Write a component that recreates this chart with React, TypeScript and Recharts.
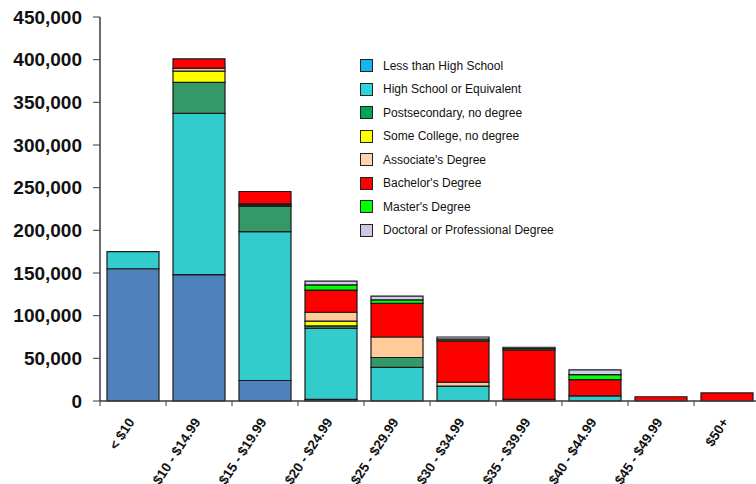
import { BarChart, Bar, XAxis, YAxis } from "recharts";

// ─── DATA ────────────────────────────────────────────────────────────────────

const categories = [
  "< $10",
  "$10 - $14.99",
  "$15 - $19.99",
  "$20 - $24.99",
  "$25 - $29.99",
  "$30 - $34.99",
  "$35 - $39.99",
  "$40 - $44.99",
  "$45 - $49.99",
  "$50+",
];

const lessHS = [155000, 148000, 24000, 2000, 0, 0, 0, 0, 0, 0];
const highSchool = [20000, 189000, 174500, 83000, 39500, 17500, 2000, 6000, 0, 0];
const postsecondary = [0, 36500, 29500, 3000, 11500, 0, 0, 0, 0, 0];
const someCollege = [0, 13000, 1500, 5500, 0, 0, 0, 0, 0, 0];
const associate = [0, 3500, 1500, 10500, 24000, 4500, 0, 0, 0, 0];
const bachelor = [0, 11000, 14500, 26000, 39500, 48500, 58000, 19000, 5000, 9500];
const master = [0, 0, 0, 6000, 4000, 2000, 1500, 6000, 0, 0];
const doctoral = [0, 0, 0, 4500, 4500, 2500, 1500, 5500, 0, 0];

const yTicks = [0, 50000, 100000, 150000, 200000, 250000, 300000, 350000, 400000, 450000];

// series: key, name, bar fill, legend fill
const SERIES = [
  { key: "lessHS", name: "Less than High School", fill: "#4f81bd", legend: "#17b4f0" },
  { key: "highSchool", name: "High School or Equivalent", fill: "#33cccc", legend: "#2dd3dc" },
  { key: "postsecondary", name: "Postsecondary, no degree", fill: "#339966", legend: "#00a651" },
  { key: "someCollege", name: "Some College,  no degree", fill: "#ffff00", legend: "#ffff00" },
  { key: "associate", name: "Associate's Degree", fill: "#ffcc99", legend: "#fdd3b0" },
  { key: "bachelor", name: "Bachelor's Degree", fill: "#ff0000", legend: "#ff0000" },
  { key: "master", name: "Master's Degree", fill: "#00ff00", legend: "#00ff00" },
  { key: "doctoral", name: "Doctoral or Professional Degree", fill: "#ccccee", legend: "#cfc6e0" },
];

const data = categories.map((c, i) => ({
  cat: c,
  lessHS: lessHS[i],
  highSchool: highSchool[i],
  postsecondary: postsecondary[i],
  someCollege: someCollege[i],
  associate: associate[i],
  bachelor: bachelor[i],
  master: master[i],
  doctoral: doctoral[i],
}));

const FONT = "'Liberation Sans', Arial, sans-serif";
const AXIS_COLOR = "#3a3a3a";

// ─── CUSTOM TICKS ────────────────────────────────────────────────────────────

function XTick(props: any) {
  const { x, y, payload, index, width, visibleTicksCount } = props;
  const band = width && visibleTicksCount ? width / visibleTicksCount : 66;
  const axisY = y - 8;
  return (
    <g>
      <line x1={x - band / 2} y1={axisY} x2={x - band / 2} y2={axisY + 5} stroke={AXIS_COLOR} />
      {index === visibleTicksCount - 1 && (
        <line x1={x + band / 2} y1={axisY} x2={x + band / 2} y2={axisY + 5} stroke={AXIS_COLOR} />
      )}
      <text
        x={x + 2}
        y={y + 13}
        transform={`rotate(-57, ${x + 2}, ${y + 13})`}
        textAnchor="end"
        fontFamily={FONT}
        fontWeight="bold"
        fontSize={13.5}
        fill="#111"
      >
        {payload.value}
      </text>
    </g>
  );
}

function LegendBox() {
  return (
    <div
      style={{
        position: "absolute",
        left: 360,
        top: 54,
        width: 240,
        fontFamily: FONT,
        fontSize: 12,
        color: "#111",
      }}
    >
      {SERIES.map((s) => (
        <div key={s.key} style={{ display: "flex", alignItems: "center", height: 23.5 }}>
          <span
            style={{
              width: 13,
              height: 13,
              boxSizing: "border-box",
              background: s.legend,
              border: "1px solid #222",
              marginRight: 10,
              flexShrink: 0,
            }}
          />
          <span>{s.name}</span>
        </div>
      ))}
    </div>
  );
}

// ─── MAIN ────────────────────────────────────────────────────────────────────

export default function App() {
  return (
    <div
      style={{
        position: "absolute",
        left: 0,
        top: 0,
        width: 756,
        height: 484,
        overflow: "hidden",
        background: "#fff",
      }}
    >
      <BarChart
        width={760}
        height={484}
        data={data}
        margin={{ top: 17, right: 0, bottom: 0, left: 0 }}
        barSize={52}
      >
        <XAxis
          dataKey="cat"
          height={83}
          interval={0}
          tickLine={false}
          axisLine={{ stroke: AXIS_COLOR, strokeWidth: 1.5 }}
          tick={<XTick />}
        />
        <YAxis
          width={100}
          domain={[0, 450000]}
          ticks={yTicks}
          interval={0}
          tickSize={7}
          tickMargin={11}
          axisLine={{ stroke: AXIS_COLOR, strokeWidth: 1.5 }}
          tickLine={{ stroke: AXIS_COLOR }}
          tick={{ fontFamily: FONT, fontWeight: "bold", fontSize: 19, fill: "#111" }}
          tickFormatter={(v: number) => v.toLocaleString("en-US")}
        />
        {SERIES.map((s) => (
          <Bar
            key={s.key}
            dataKey={s.key}
            name={s.name}
            stackId="a"
            fill={s.fill}
            stroke="#1a1a1a"
            strokeWidth={1.2}
            isAnimationActive={false}
          />
        ))}
      </BarChart>
      <LegendBox />
    </div>
  );
}
